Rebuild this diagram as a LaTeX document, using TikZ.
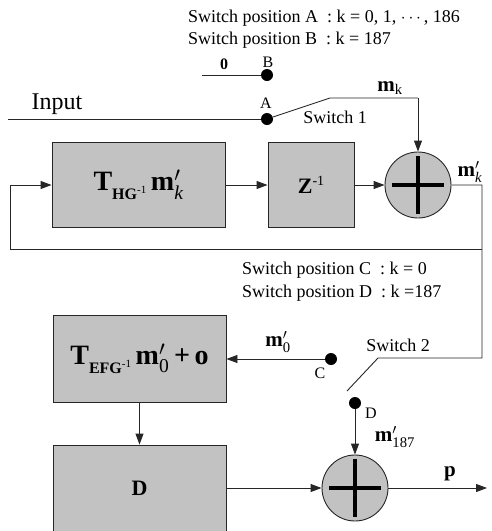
\documentclass[tikz,border=0pt]{standalone}
\usepackage{amsmath}
\usepackage{fontspec}
\setmainfont{Liberation Serif}
\usetikzlibrary{arrows.meta}
\tikzset{
  blk/.style={draw=black!85, line width=0.9pt, fill=black!24, inner sep=0pt},
  sumc/.style={circle, draw=black!85, line width=0.9pt, fill=black!24, minimum size=66pt, inner sep=0pt,
    path picture={\draw[line width=3.2pt,black]
      ([xshift=7pt]path picture bounding box.west) -- ([xshift=-7pt]path picture bounding box.east)
      ([yshift=-4pt]path picture bounding box.north) -- ([yshift=4pt]path picture bounding box.south);}},
  dotn/.style={circle, fill=black, minimum size=12pt, inner sep=0pt},
  wire/.style={draw=black!85, line width=0.9pt},
  arr/.style={wire, -{Triangle[length=11pt,width=8pt]}},
  lbl/.style={inner sep=0pt, font=\fontsize{18}{21}\selectfont},
  sml/.style={inner sep=0pt, font=\fontsize{16}{18}\selectfont},
  big/.style={font=\fontsize{28}{30}\selectfont\bfseries},
}
\begin{document}
\begin{tikzpicture}[x=1pt,y=-1pt]
\useasboundingbox (0,0) rectangle (491,531);
\clip (0,0) rectangle (491,531);

% blocks
\node[blk, big, minimum width=173pt, minimum height=85pt] (thg) at (138.5,185)
  {T\raisebox{-9pt}{\fontsize{16}{16}\selectfont HG\raisebox{6pt}{\fontsize{11}{11}\selectfont\mdseries -1}}\,$\textbf{m}'_{\textit{\mdseries k}}$};
\node[blk, minimum width=86pt, minimum height=85pt] (zb) at (311,185)
  {\fontsize{22}{24}\selectfont\textbf{Z}\raisebox{8pt}{\fontsize{14}{14}\selectfont -1}};
\node[sumc] (s1) at (418,185) {};
\node[blk, big, minimum width=173pt, minimum height=87pt] (tefg) at (139.5,359)
  {T\raisebox{-9pt}{\fontsize{16}{16}\selectfont EFG\raisebox{6pt}{\fontsize{11}{11}\selectfont\mdseries -1}}\,$\textbf{m}'_{\textmd{0}}$\,+\,o};
\node[blk, minimum width=173pt, minimum height=100pt] (db) at (139.5,495)
  {\raisebox{7pt}[\height][\depth]{\fontsize{22}{24}\selectfont\textbf{D}}};
\node[sumc] (s2) at (355,488) {};

% switch contacts
\node[dotn] (A) at (267,119) {};
\node[dotn] (B) at (267,75) {};
\node[dotn] (C) at (331,359) {};
\node[dotn] (D) at (355,403) {};

% free ends and bends
\coordinate (inL) at (8,119);
\coordinate (zL) at (202,75);
\coordinate (sw1a) at (330,98);
\coordinate (sw1b) at (418,98);
\coordinate (r1) at (482,185);
\coordinate (r2) at (482,249);
\coordinate (l2) at (10,249);
\coordinate (l1) at (10,185);
\coordinate (r3) at (482,358);
\coordinate (sw2a) at (378,358);
\coordinate (sw2b) at (347,391);
\coordinate (pend) at (487,488);

% connectors
\draw[wire] (inL) -- (A);
\draw[wire] (zL) -- (B);
\draw[wire] (A) -- (sw1a) -- (sw1b);
\draw[arr] (sw1b) -- (s1);
\draw[arr] (thg.east) -- (zb.west);
\draw[arr] (zb.east) -- (s1.west);
\draw[wire] (s1.east) -- (r1) -- (r3) -- (sw2a) -- (sw2b);
\draw[arr] (r2) -- (l2) -- (l1) -- (thg.west);
\draw[arr] (C) -- (C -| tefg.east);
\draw[arr] (tefg.south) -- (db.north);
\draw[arr] (D) -- (s2);
\draw[arr] (s2.west -| db.east) -- (s2.west);
\draw[arr] (s2.east) -- (pend);

% texts
\node[lbl, anchor=west] (t1) at (188,18) {Switch position A\ \ : k = 0, 1, $\cdots$, 186};
\node[lbl, anchor=west] (t2) at (188,40) {Switch position B\ \ : k = 187};
\node[sml, font=\fontsize{16}{18}\selectfont\bfseries] (zero) at (224,64) {0};
\node[sml] (Bl) at (268,62) {B};
\node[sml] (Al) at (266,103) {A};
\node[inner sep=0pt, font=\fontsize{24}{26}\selectfont] (inp) at (57,104) {Input};
\node[lbl, font=\fontsize{21}{23}\selectfont] (mk) at (390,88) {$\textbf{m}_{\textrm{k}}$};
\node[lbl] (sw1) at (335,117) {Switch 1};
\node[lbl, font=\fontsize{21}{23}\selectfont] (mkp) at (470,172) {$\textbf{m}'_{\textit{k}}$};
\node[lbl, anchor=west] (t3) at (242,270) {Switch position C\ \ : k = 0};
\node[lbl, anchor=west] (t4) at (242,293) {Switch position D\ \ : k =187};
\node[lbl, font=\fontsize{21}{23}\selectfont] (m0) at (278,342) {$\textbf{m}'_{\textrm{0}}$};
\node[sml] (Cl) at (320,373) {C};
\node[lbl] (sw2) at (398,345) {Switch 2};
\node[sml] (Dl) at (371,413) {D};
\node[lbl, font=\fontsize{21}{23}\selectfont] (m187) at (395,437) {$\textbf{m}'_{\textrm{187}}$};
\node[lbl, font=\fontsize{21}{23}\selectfont\bfseries] (pl) at (450,474) {p};
\end{tikzpicture}
\end{document}
